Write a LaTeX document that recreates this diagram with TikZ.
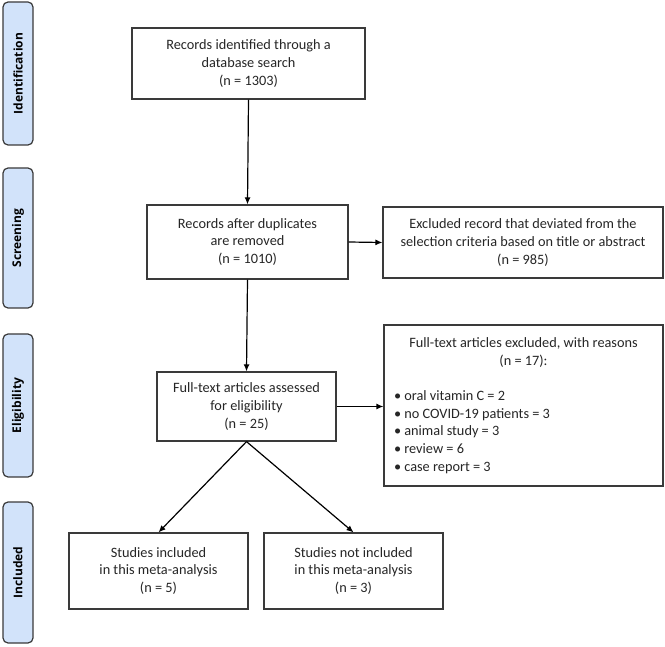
\documentclass[tikz,border=0pt]{standalone}
\usepackage{fontspec}
\setmainfont{Carlito}
\newfontfamily\sidefont{Open Sans}
\usetikzlibrary{arrows.meta}
\definecolor{sidefill}{HTML}{D2E3FA}
\definecolor{edgegray}{HTML}{3A3A3A}
\tikzset{
  box/.style={draw=edgegray, line width=1.2pt, fill=white, align=center, inner sep=0pt,
    font=\fontsize{14.3}{17.6}\selectfont, text=black!85},
  side/.style={draw=edgegray, line width=1.2pt, fill=sidefill, rounded corners=5pt,
    minimum width=30pt, inner sep=0pt},
  sidetext/.style={rotate=90, font=\sidefont\bfseries\fontsize{12}{14}\selectfont},
  arr/.style={-{Latex[length=7pt,width=6pt]}, line width=1.2pt, black}
}
\begin{document}
\begin{tikzpicture}[x=1pt,y=1pt]
\useasboundingbox (0,0) rectangle (665,-647);
% side labels
\node[side, minimum height=143pt] (sid) at (18,-73.5) {};
\node[sidetext] (sidt) at (sid.center) {Identification};
\node[side, minimum height=140pt] (sscr) at (18,-238) {};
\node[sidetext] (sscrt) at (sscr.center) {Screening};
\node[side, minimum height=143pt] (selig) at (18,-405.5) {};
\node[sidetext] (seligt) at (selig.center) {Eligibility};
\node[side, minimum height=141pt] (sinc) at (18,-572.5) {};
\node[sidetext] (sinct) at (sinc.center) {Included};
% main boxes
\node[box, minimum width=233pt, minimum height=71pt] (ident) at (248.5,-63.5)
  {Records identified through a\\database search\\(n = 1303)};
\node[box, minimum width=201pt, minimum height=74pt] (dup) at (247.5,-242)
  {Records after duplicates\\are removed\\(n = 1010)};
\node[box, minimum width=280pt, minimum height=71pt] (excl) at (523,-242.5)
  {Excluded record that deviated from the\\selection criteria based on title or abstract\\(n = 985)};
\node[box, minimum width=179pt, minimum height=69pt] (full) at (246.5,-406.5)
  {Full-text articles assessed\\for eligibility\\(n = 25)};
\node[box, minimum width=279pt, minimum height=161pt] (exfull) at (523.5,-405.5)
  {\begin{minipage}{259pt}\centering Full-text articles excluded, with reasons\\(n = 17):\par
   \vspace{18pt}\raggedright
   \textbullet\ oral vitamin C = 2\\
   \textbullet\ no COVID-19 patients = 3\\
   \textbullet\ animal study = 3\\
   \textbullet\ review = 6\\
   \textbullet\ case report = 3\end{minipage}};
\node[box, minimum width=179pt, minimum height=76pt] (incl) at (158.5,-571)
  {Studies included\\in this meta-analysis\\(n = 5)};
\node[box, minimum width=179pt, minimum height=76pt] (notincl) at (353.5,-571)
  {Studies not included\\in this meta-analysis\\(n = 3)};
% connectors
\draw[arr] (ident.south) -- (dup.north);
\draw[arr] (dup.east) -- (excl.west);
\draw[arr] (dup.south) -- (full.north);
\draw[arr] (full.east) -- (exfull.west |- full.east);
\draw[arr] (full.south) -- (incl.north);
\draw[arr] (full.south) -- (notincl.north);
\end{tikzpicture}
\end{document}
